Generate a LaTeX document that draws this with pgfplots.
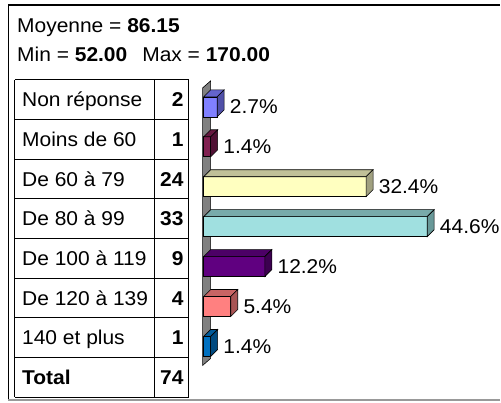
\documentclass[border=0pt]{standalone}
\usepackage{pgfplots}
\pgfplotsset{compat=1.18}
\usepackage{fontspec}
\setmainfont{Liberation Sans}[FakeStretch=1.05]
\definecolor{f1}{HTML}{8080FF}\definecolor{t1}{HTML}{6464CC}\definecolor{s1}{HTML}{5050A8}
\definecolor{f2}{HTML}{802050}\definecolor{t2}{HTML}{661840}\definecolor{s2}{HTML}{501034}
\definecolor{f3}{HTML}{FFFFC0}\definecolor{t3}{HTML}{C0C098}\definecolor{s3}{HTML}{A0A080}
\definecolor{f4}{HTML}{A0E0E0}\definecolor{t4}{HTML}{78AAAA}\definecolor{s4}{HTML}{689898}
\definecolor{f5}{HTML}{600080}\definecolor{t5}{HTML}{4C0066}\definecolor{s5}{HTML}{3C0050}
\definecolor{f6}{HTML}{FF8080}\definecolor{t6}{HTML}{C86464}\definecolor{s6}{HTML}{A85454}
\definecolor{f7}{HTML}{0070C0}\definecolor{t7}{HTML}{005A9A}\definecolor{s7}{HTML}{004A80}
\pgfplotsset{
  front/.style={xbar, bar shift=0pt, bar width=20pt, draw=black, line width=0.6pt, fill=#1,
     point meta=x,
     nodes near coords={\pgfmathprintnumber[fixed,precision=1,fixed zerofill]{\pgfplotspointmeta}\%},
     every node near coord/.append style={anchor=west, inner sep=0pt, xshift=12.5pt, text=black}},
  faces/.style 2 args={scatter, only marks, mark=*, mark size=0pt, mark options={draw=none,fill=none},
     visualization depends on={x \as \xv},
     scatter/@pre marker code/.code={%
       \scope
       \filldraw[fill=#1, draw=black, line width=0.6pt] ({-\xv*5.02pt},10pt) -- (0pt,10pt) -- (7pt,17pt) -- ({-\xv*5.02pt+7pt},17pt) -- cycle;
       \filldraw[fill=#2, draw=black, line width=0.6pt] (0pt,-10pt) -- (0pt,10pt) -- (7pt,17pt) -- (7pt,-3pt) -- cycle;
     },
     scatter/@post marker code/.code={\endscope}},
}
\begin{document}
\fontsize{20pt}{24pt}\selectfont
\begin{tikzpicture}[x=1pt,y=-1pt, font=\fontsize{20pt}{24pt}\selectfont]
\path (0,0) rectangle (501,403);
% outer frame
\draw[line width=1.6pt] (9,5) -- (501,5);
\draw[line width=1pt] (9,4.2) -- (9,400);
\draw[gray!80, line width=1.5pt] (8.5,400.5) -- (501,400.5);
% header
\node[anchor=base west, inner sep=0] at (17,33) {Moyenne = \textbf{86.15}};
\node[anchor=base west, inner sep=0] at (17,62) {Min = \textbf{52.00}\hspace{15pt}Max = \textbf{170.00}};
% table
\foreach \i in {0,...,8} \draw[line width=1pt] (15,{80+39.75*\i}) -- (189,{80+39.75*\i});
\draw[line width=1pt] (15,80) -- (15,398) (155,80) -- (155,398) (189,80) -- (189,398);
\foreach \lab/\n [count=\i from 0] in {Non réponse/2, Moins de 60/1, De 60 à 79/24, De 80 à 99/33, De 100 à 119/9, De 120 à 139/4, 140 et plus/1}{
  \node[anchor=base west, inner sep=0] at (22,{80+39.75*\i+27}) {\lab};
  \node[anchor=base east, inner sep=0] at (184,{80+39.75*\i+27}) {\textbf{\n}};
}
\node[anchor=base west, inner sep=0] at (22,{80+39.75*7+27}) {\textbf{Total}};
\node[anchor=base east, inner sep=0] at (184,{80+39.75*7+27}) {\textbf{74}};
% wall
\filldraw[fill=gray, draw=black, line width=0.6pt] (203,88) -- (211,81) -- (211,359) -- (203,366) -- cycle;
\coordinate (A) at (204,87);
\begin{axis}[at={(A)}, anchor=north west, x=5.02pt, y=40pt, y dir=reverse,
  xmin=0, xmax=55, ymin=-0.5, ymax=6.5, hide axis, clip=false,
  /pgf/number format/assume math mode=true]
\addplot[front=f1] coordinates {(2.7,0)};
\addplot[faces={t1}{s1}] coordinates {(2.7,0)};
\addplot[front=f2] coordinates {(1.4,1)};
\addplot[faces={t2}{s2}] coordinates {(1.4,1)};
\addplot[front=f3] coordinates {(32.4,2)};
\addplot[faces={t3}{s3}] coordinates {(32.4,2)};
\addplot[front=f4] coordinates {(44.6,3)};
\addplot[faces={t4}{s4}] coordinates {(44.6,3)};
\addplot[front=f5] coordinates {(12.2,4)};
\addplot[faces={t5}{s5}] coordinates {(12.2,4)};
\addplot[front=f6] coordinates {(5.4,5)};
\addplot[faces={t6}{s6}] coordinates {(5.4,5)};
\addplot[front=f7] coordinates {(1.4,6)};
\addplot[faces={t7}{s7}] coordinates {(1.4,6)};
\end{axis}
\end{tikzpicture}
\end{document}
